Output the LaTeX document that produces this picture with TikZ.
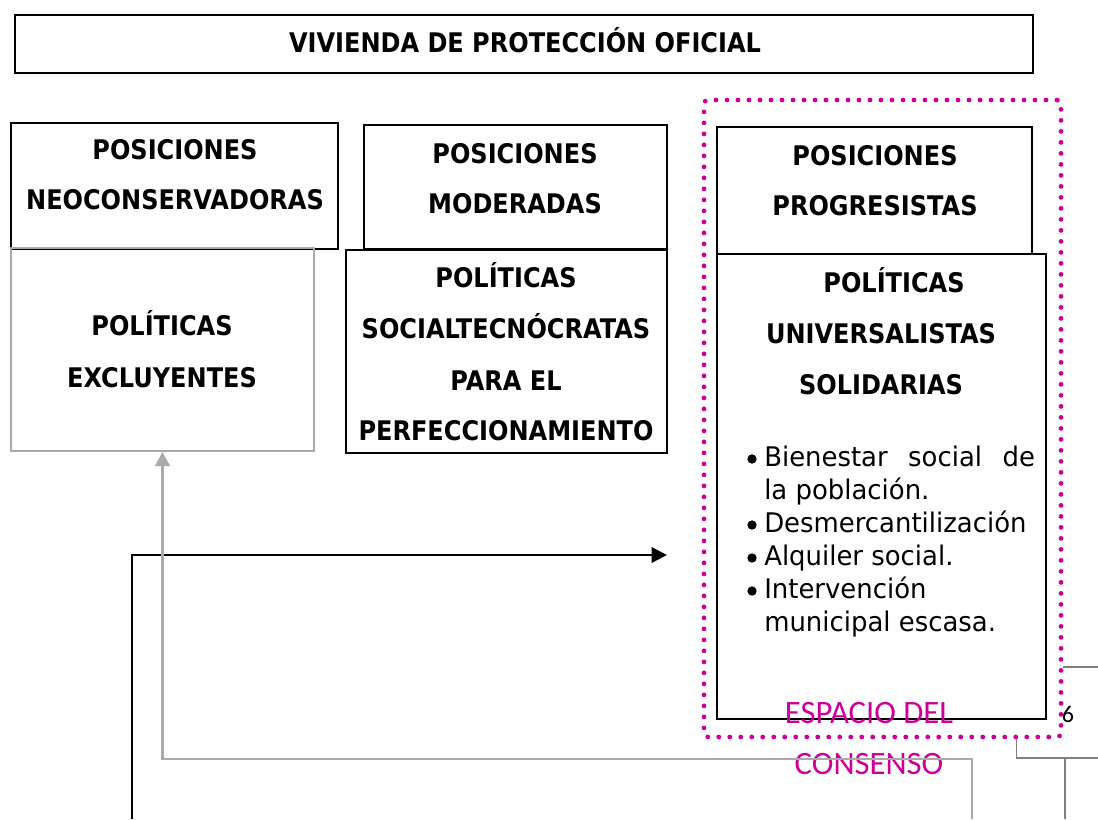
\documentclass[tikz,border=0pt]{standalone}
\usepackage{fontspec}
\setmainfont{DejaVu Sans}
\newfontfamily\headfont{DejaVu Sans}[FakeStretch=0.89]
\newfontfamily\bodyfont{DejaVu Sans}[FakeStretch=0.96]
\newfontfamily\carl{Carlito}
\usetikzlibrary{arrows.meta,fit,calc}
\definecolor{mag}{RGB}{204,0,153}
\definecolor{lgray}{RGB}{170,170,170}
\definecolor{dgray}{RGB}{128,128,128}
\begin{document}
\begin{tikzpicture}[x=0.75pt,y=-0.75pt,
  box/.style={draw=black,line width=1.6pt,inner sep=0pt},
  gbox/.style={draw=lgray,line width=1.5pt,inner sep=0pt},
  head/.style={font=\headfont\fontsize{20.25}{24}\selectfont\bfseries,anchor=base,inner sep=0pt},
  body/.style={font=\bodyfont\fontsize{20.25}{24}\selectfont,anchor=base west,inner sep=0pt},
  bul/.style={circle,fill=black,inner sep=0pt,minimum size=7pt},
  magtext/.style={font=\carl\fontsize{24.5}{28}\selectfont,text=mag,anchor=base,inner sep=0pt},
  blackline/.style={draw=black,line width=1.7pt},
  grayline/.style={draw=lgray,line width=1.6pt},
  dgrayline/.style={draw=dgray,line width=1.2pt},
  dotbox/.style={draw=mag,line width=3.6pt,dash pattern=on 0pt off 8.25pt,line cap=round,rounded corners=3pt,inner sep=0pt}
]
\useasboundingbox (0,0) rectangle (1098,819);

% boxes
\node[box,fit={(15,15)(1033,73)}] (title) {};
\node[box,fit={(11,123)(338,249)}] (neo) {};
\node[gbox,fit={(11,248)(314,451)}] (excl) {};
\node[box,fit={(364,125)(667,249)}] (mod) {};
\node[box,fit={(346,250)(667,453)}] (soc) {};
\node[box,fit={(717,127)(1032,254)}] (prog) {};
\node[box,fit={(717,254)(1046,719)}] (univ) {};
\node[dotbox,fit={(704,100)(1061,737)}] (consenso) {};

% headings
\node[head] (t1) at (525,52) {VIVIENDA DE PROTECCIÓN OFICIAL};
\node[head] (n1) at (175,159) {POSICIONES};
\node[head] (n2) at (175,209) {NEOCONSERVADORAS};
\node[head] (m1) at (515,163) {POSICIONES};
\node[head] (m2) at (515,213) {MODERADAS};
\node[head] (p1) at (875,165) {POSICIONES};
\node[head] (p2) at (875,215) {PROGRESISTAS};
\node[head] (e1) at (162,335) {POLÍTICAS};
\node[head] (e2) at (162,387) {EXCLUYENTES};
\node[head] (s1) at (506,287) {POLÍTICAS};
\node[head] (s2) at (506,338) {SOCIALTECNÓCRATAS};
\node[head] (s3) at (506,390) {PARA EL};
\node[head] (s4) at (506,440) {PERFECCIONAMIENTO};
\node[head] (u1) at (894,292) {POLÍTICAS};
\node[head] (u2) at (881,343) {UNIVERSALISTAS};
\node[head] (u3) at (881,394) {SOLIDARIAS};

% bullet list
\node[bul] (b1) at (752,459) {};
\node[body] (l1) at (764,466) {\makebox[203pt][s]{Bienestar\hfill social\hfill de}};
\node[body] (l2) at (764,499) {la población.};
\node[bul] (b2) at (752,525) {};
\node[body] (l3) at (764,532) {Desmercantilización};
\node[bul] (b3) at (752,558) {};
\node[body] (l4) at (764,565) {Alquiler social.};
\node[bul] (b4) at (752,591) {};
\node[body] (l5) at (764,598) {Intervención};
\node[body] (l6) at (764,631) {municipal escasa.};

% consensus label
\node[magtext] (c1) at (869,723) {ESPACIO DEL};
\node[magtext] (c2) at (869,774) {CONSENSO};
\node[font=\carl\fontsize{18}{20}\selectfont,anchor=base,inner sep=0pt] (six) at (1068,722) {6};

% connectors
\coordinate (bStart) at (132,819);
\coordinate (bEnd) at (667,555);
\draw[blackline,-{Triangle[length=11.5pt,width=11.5pt]}] (bStart) |- (bEnd);

\coordinate (gStart) at (972,819);
\draw[grayline,-{Triangle[length=10.5pt,width=11pt]}] (gStart) -- (972,759) -| (excl.south);

\coordinate (r1) at (1098,667);
\draw[dgrayline] (consenso.east |- r1) -- (r1);
\coordinate (r2) at (1098,758);
\draw[dgrayline] ($(consenso.south)+(134,0)$) |- (r2);
\coordinate (r3) at (1065,819);
\draw[dgrayline] (r3) -- (1065,758);
\end{tikzpicture}
\end{document}
